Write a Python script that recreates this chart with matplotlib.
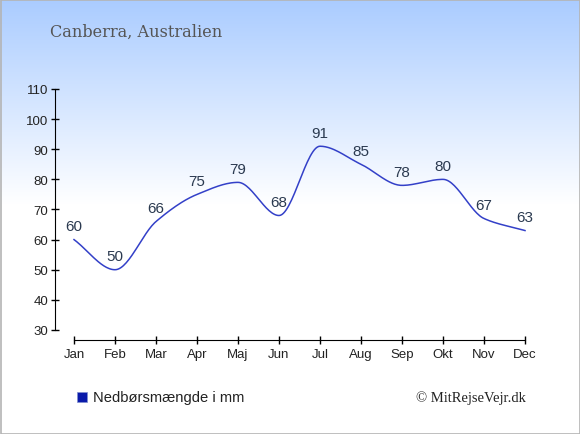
import numpy as np
import matplotlib
matplotlib.use("Agg")
import matplotlib.pyplot as plt
from matplotlib.patches import Rectangle

months = ["Jan", "Feb", "Mar", "Apr", "Maj", "Jun", "Jul", "Aug", "Sep", "Okt", "Nov", "Dec"]
rain_mm = [60, 50, 66, 75, 79, 68, 91, 85, 78, 80, 67, 63]
yticks = [30, 40, 50, 60, 70, 80, 90, 100, 110]


def monotone_curve(x, y, n=30):
    # Fritsch-Carlson monotone cubic, keeps extremes flat
    x = np.asarray(x, float)
    y = np.asarray(y, float)
    h = np.diff(x)
    d = np.diff(y) / h
    m = np.zeros_like(y)
    m[0], m[-1] = d[0], d[-1]
    for i in range(1, len(y) - 1):
        if d[i - 1] * d[i] <= 0:
            m[i] = 0
        else:
            m[i] = 2 / (1 / d[i - 1] + 1 / d[i])
    xs, ys = [], []
    for i in range(len(x) - 1):
        t = np.linspace(0, 1, n)
        h00 = 2 * t**3 - 3 * t**2 + 1
        h10 = t**3 - 2 * t**2 + t
        h01 = -2 * t**3 + 3 * t**2
        h11 = t**3 - t**2
        xs.append(x[i] + t * h[i])
        ys.append(h00 * y[i] + h10 * h[i] * m[i] + h01 * y[i + 1] + h11 * h[i] * m[i + 1])
    return np.concatenate(xs), np.concatenate(ys)


W, H = 580, 435
fig = plt.figure(figsize=(W / 100, H / 100), dpi=100)

# background gradient: light blue at top fading to white
bg = fig.add_axes([0, 0, 1, 1], zorder=-10)
frac = np.clip(np.arange(H) / 205.0, 0, 1)
top = np.array([170, 204, 255]) / 255.0
grad = top[None, :] * (1 - frac[:, None]) + frac[:, None] * 1.0
img = np.repeat(grad[:, None, :], W, axis=1)
bg.imshow(img, aspect="auto", extent=[0, W, H, 0])
bg.set_xlim(0, W)
bg.set_ylim(H, 0)
bg.axis("off")
bg.add_patch(Rectangle((0.5, 0.5), W - 1, H - 1, fill=False, edgecolor="#b4b4b4", lw=1.2))

ax = fig.add_axes([55 / W, (H - 341) / H, 470 / W, 251 / H])
ax.patch.set_alpha(0)
x = np.arange(len(months))
ax.set_xlim(-19 / 41, 11)
ax.set_ylim(30 - 10 / 3, 110)

cx, cy = monotone_curve(x, rain_mm)
ax.plot(cx, cy, color="#3340c8", lw=1.1, clip_on=False)
for xi, v in zip(x, rain_mm):
    ax.annotate(str(v), (xi, v), xytext=(0, 4.5), textcoords="offset points",
                ha="center", va="bottom", fontsize=11, color="#2b3a50",
                family="Liberation Sans")

for s in ["top", "right"]:
    ax.spines[s].set_visible(False)
ax.spines["left"].set_bounds(30, 110)
ax.spines["bottom"].set_bounds(0, 11)
ax.set_xticks(x)
ax.set_xticklabels(months)
ax.set_yticks(yticks)
ax.tick_params(axis="both", direction="inout", length=6, width=1, colors="black",
               labelsize=9.5, labelcolor="#222222")
ax.tick_params(axis="x", pad=3)
ax.tick_params(axis="y", pad=2)
for lab in ax.get_xticklabels() + ax.get_yticklabels():
    lab.set_family("Liberation Sans")

fig.text(50 / W, 1 - 32 / H, "Canberra, Australien", fontsize=11.6, color="#555555",
         family="DejaVu Serif", va="center", ha="left")
fig.patches.append(Rectangle((77 / W, 1 - 403 / H), 10 / W, 10 / H, transform=fig.transFigure,
                             facecolor="#0a1aaa", edgecolor="#8090d0", lw=0.5))
fig.text(93 / W, 1 - 398 / H, "Nedbørsmængde i mm", fontsize=10.6, color="#222222",
         family="Liberation Sans", va="center", ha="left")
fig.text(526 / W, 1 - 398 / H, "© MitRejseVejr.dk", fontsize=10.5, color="#222222",
         family="Liberation Serif", va="center", ha="right")

fig.savefig("out.png", dpi=100)
